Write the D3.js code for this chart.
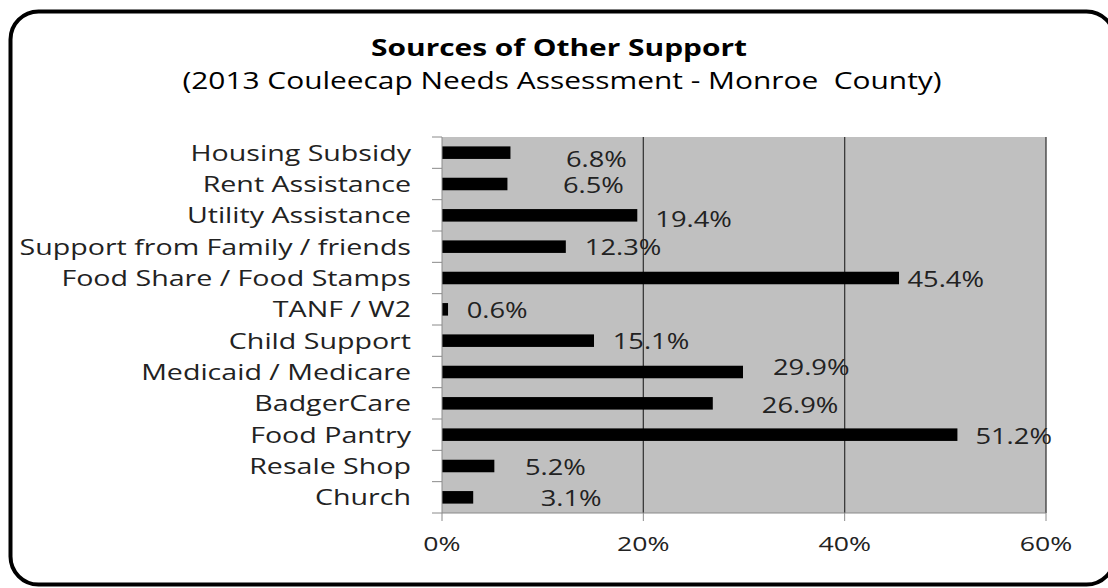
<!DOCTYPE html>
<html>
<head>
<meta charset="utf-8">
<script src="https://cdn.jsdelivr.net/npm/d3@7"></script>
<style>
  html, body { margin: 0; padding: 0; background: #fff; }
  svg { display: block; }
  text { font-family: "Open Sans", "DejaVu Sans", sans-serif; fill: #222; white-space: pre; }
</style>
</head>
<body>
<svg id="chart" width="1108" height="588"></svg>
<script>
// Sources of other support, percent of respondents
const categories = [
  "Housing Subsidy", "Rent Assistance", "Utility Assistance",
  "Support from Family / friends", "Food Share / Food Stamps", "TANF / W2",
  "Child Support", "Medicaid / Medicare", "BadgerCare", "Food Pantry",
  "Resale Shop", "Church"
];
const values = [6.8, 6.5, 19.4, 12.3, 45.4, 0.6, 15.1, 29.9, 26.9, 51.2, 5.2, 3.1];
const xTicks = [0, 20, 40, 60];
const titleText = "Sources of Other Support";
const subtitleText = "(2013 Couleecap Needs Assessment - Monroe  County)";

// hand-placed label nudges [dx, dy] in px, as laid out in the original workbook
const labelNudge = [
  [37.5, 5.5], [37.5, 0], [0, 2.7], [1, 0], [-9.6, 0.5], [0.7, 0],
  [0.7, 0], [12, -5.3], [31, 0.7], [0, 1], [12.6, 0.3], [49.5, 0]
];

const svg = d3.select("#chart");
const SX = 1.3; // horizontal text stretch of the chart's typeface

const plot = { left: 442, right: 1046, top: 137, bottom: 513 };

const x = d3.scaleLinear().domain([0, 60]).range([plot.left, plot.right]);
const y = d3.scaleBand().domain(categories).range([plot.top, plot.bottom]).padding(0);
const bw = y.bandwidth();

// outer rounded frame
svg.append("rect")
  .attr("x", 10.5).attr("y", 11.5)
  .attr("width", 1104).attr("height", 573)
  .attr("rx", 28).attr("ry", 28)
  .attr("fill", "#fff").attr("stroke", "#000").attr("stroke-width", 4);

function stretchedText(g, tx, ty) {
  return g.append("text").attr("transform", `translate(${tx},${ty}) scale(${SX},1)`);
}

// titles
stretchedText(svg, 559, 56)
  .attr("text-anchor", "middle").attr("font-size", 23).attr("font-weight", "bold")
  .style("fill", "#000")
  .text(titleText);
stretchedText(svg, 562, 89)
  .attr("text-anchor", "middle").attr("font-size", 23)
  .style("fill", "#000")
  .text(subtitleText);

// plot background
svg.append("rect")
  .attr("x", plot.left).attr("y", plot.top)
  .attr("width", plot.right - plot.left).attr("height", plot.bottom - plot.top)
  .attr("fill", "#c0c0c0");

// vertical gridlines
svg.append("g").selectAll("line")
  .data(xTicks.filter(d => d > 0))
  .join("line")
  .attr("x1", d => x(d)).attr("x2", d => x(d))
  .attr("y1", plot.top).attr("y2", plot.bottom)
  .attr("stroke", "#3a3a3a").attr("stroke-width", 1.3);

// bars
svg.append("g").selectAll("rect")
  .data(values)
  .join("rect")
  .attr("x", x(0))
  .attr("y", (d, i) => y(categories[i]) + bw * 0.3)
  .attr("width", d => x(d) - x(0))
  .attr("height", bw * 0.4)
  .attr("fill", "#000");

// category axis (left)
const yAxis = svg.append("g");
yAxis.append("line")
  .attr("x1", plot.left).attr("x2", plot.left)
  .attr("y1", plot.top).attr("y2", plot.bottom)
  .attr("stroke", "#8a8a8a").attr("stroke-width", 1);
const boundaries = categories.map(c => y(c)).concat([plot.bottom]);
yAxis.selectAll("line.tick")
  .data(boundaries)
  .join("line").attr("class", "tick")
  .attr("x1", plot.left - 10).attr("x2", plot.left)
  .attr("y1", d => d).attr("y2", d => d)
  .attr("stroke", "#8a8a8a").attr("stroke-width", 1);
categories.forEach(c => {
  stretchedText(yAxis, 411, y(c) + bw / 2)
    .attr("text-anchor", "end").attr("font-size", 22).attr("dy", "0.36em")
    .text(c);
});

// value axis (bottom)
const xAxis = svg.append("g");
xAxis.append("line")
  .attr("x1", plot.left).attr("x2", plot.right)
  .attr("y1", plot.bottom).attr("y2", plot.bottom)
  .attr("stroke", "#8a8a8a").attr("stroke-width", 1);
xAxis.selectAll("line.tick")
  .data(xTicks)
  .join("line").attr("class", "tick")
  .attr("x1", d => x(d)).attr("x2", d => x(d))
  .attr("y1", plot.bottom).attr("y2", plot.bottom + 8)
  .attr("stroke", "#8a8a8a").attr("stroke-width", 1);
xTicks.forEach(t => {
  stretchedText(xAxis, x(t), 544)
    .attr("text-anchor", "middle").attr("font-size", 20.5).attr("dy", "0.36em")
    .text(t + "%");
});

// value labels
const labels = svg.append("g");
values.forEach((v, i) => {
  const [dx, dy] = labelNudge[i];
  stretchedText(labels, x(v) + 18 + dx, y(categories[i]) + bw / 2 + 1 + dy)
    .attr("font-size", 21).attr("dy", "0.36em")
    .text(v.toFixed(1) + "%");
});
</script>
</body>
</html>
